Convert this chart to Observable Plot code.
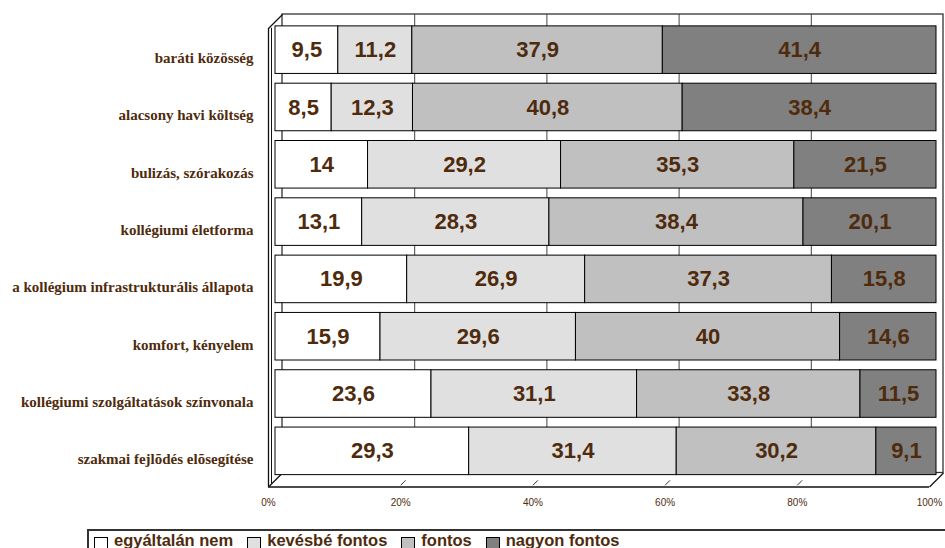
<!DOCTYPE html>
<html>
<head>
<meta charset="utf-8">
<script src="https://cdn.jsdelivr.net/npm/d3@7"></script>
<script src="https://cdn.jsdelivr.net/npm/@observablehq/plot@0.6"></script>
<style>
  html, body { margin: 0; padding: 0; background: #fff; width: 945px; height: 548px; overflow: hidden; }
  #chart svg { display: block; }
  #legend {
    margin-top: 5px; margin-left: 87px; width: 900px;
    border-top: 2px solid #333; border-left: 2px solid #333;
    padding-top: 0px; padding-left: 5px;
    display: flex; align-items: flex-start;
    font-family: "Liberation Sans", Arial, sans-serif; font-weight: bold;
    font-size: 16.5px; line-height: 19px; color: #4f2b0d;
  }
  #legend .item { display: flex; align-items: flex-start; margin-right: 14px; }
  #legend .sw { width: 12px; height: 12px; border: 1px solid #000; margin-top: 6px; margin-right: 6px; }
</style>
</head>
<body>
<div id="chart"></div>
<div id="legend"></div>
<script>
const categories = [
  "baráti közösség",
  "alacsony havi költség",
  "bulizás, szórakozás",
  "kollégiumi életforma",
  "a kollégium infrastrukturális állapota",
  "komfort, kényelem",
  "kollégiumi szolgáltatások színvonala",
  "szakmai fejlõdés elõsegítése"
];
const seriesNames = ["egyáltalán nem", "kevésbé fontos", "fontos", "nagyon fontos"];
const egyaltalanNem = [9.5, 8.5, 14, 13.1, 19.9, 15.9, 23.6, 29.3];
const kevesbeFontos = [11.2, 12.3, 29.2, 28.3, 26.9, 29.6, 31.1, 31.4];
const fontos = [37.9, 40.8, 35.3, 38.4, 37.3, 40, 33.8, 30.2];
const nagyonFontos = [41.4, 38.4, 21.5, 20.1, 15.8, 14.6, 11.5, 9.1];
const tickValues = [0, 20, 40, 60, 80, 100];
const seriesColors = ["#ffffff", "#e0e0e0", "#c0c0c0", "#808080"];

const seriesValues = [egyaltalanNem, kevesbeFontos, fontos, nagyonFontos];
const table = [];
categories.forEach((cat, i) => {
  const total = seriesValues.reduce((s, arr) => s + arr[i], 0);
  let cum = 0;
  seriesValues.forEach((arr, j) => {
    const v = arr[i];
    table.push({row: i, cat, series: seriesNames[j], value: v,
      x1: cum / total * 100, x2: (cum + v) / total * 100});
    cum += v;
  });
});

const W = 945, H = 524, ML = 275, MR = 9, MT = 21, MB = 44.5;
const D = 7; // 3D depth in px
const ux = D / (W - ML - MR) * 100;
const uy = D / ((H - MT - MB) / categories.length);
const brown = "#4f2b0d";
const sans = "Liberation Sans, Arial, sans-serif";
const fmt = v => String(v).replace(".", ",");
const half = 0.415;

const chart = Plot.plot({
  width: W, height: H,
  marginLeft: ML, marginRight: MR, marginTop: MT, marginBottom: MB,
  x: {domain: [0, 100], axis: null},
  y: {domain: [-0.5, categories.length - 0.5], reverse: true, axis: null},
  color: {domain: seriesNames, range: seriesColors},
  marks: [
    // back wall
    Plot.rect([0], {x1: 0, x2: 100, y1: -0.5, y2: 7.5, dx: D, dy: -D, fill: "white", stroke: "#333", strokeWidth: 1.3}),
    // gridlines on back wall
    Plot.ruleX(tickValues.slice(1, -1), {y1: -0.5, y2: 7.5, dx: D, dy: -D, stroke: "#444", strokeWidth: 1}),
    // left wall front lines
    Plot.ruleX([0], {y1: -0.5, y2: 7.5, dx: -D, dy: D, stroke: "#111", strokeWidth: 1.3}),
    Plot.ruleX([0], {y1: -0.5 + uy * 0.4, y2: 7.5, dx: -D + 3, dy: D - 3, stroke: "#111", strokeWidth: 1}),
    // depth diagonals
    Plot.link([[0, -0.5], [0, 7.5], [100, 7.5]], {
      x1: d => d[0] - ux, y1: d => d[1] + uy, x2: d => d[0] + ux, y2: d => d[1] - uy,
      stroke: "#111", strokeWidth: 1.3
    }),
    // floor front edge
    Plot.ruleY([7.5], {x1: 0, x2: 100, dx: -D, dy: D, stroke: "#111", strokeWidth: 1.3}),
    // floor tick marks
    Plot.link(tickValues.slice(1, -1), {
      x1: d => d - ux, y1: 7.5 + uy * 0.75, x2: d => d - ux * 0.3, y2: 7.5 + uy * 0.05,
      stroke: "#333", strokeWidth: 1
    }),
    // bars
    Plot.rect(table, {
      x1: "x1", x2: "x2", y1: d => d.row - half, y2: d => d.row + half,
      fill: "series", stroke: "#000", strokeWidth: 1
    }),
    // value labels
    Plot.text(table, {
      x: d => (d.x1 + d.x2) / 2, y: "row", text: d => fmt(d.value),
      fontSize: 22, fontWeight: "bold", fontFamily: sans, fill: brown
    }),
    // category labels
    Plot.text(categories, {
      x: 0, y: (d, i) => i, text: d => d, dx: -22, dy: 8, textAnchor: "end",
      fontSize: 15, fontWeight: "bold", fontFamily: "Liberation Serif, Times New Roman, serif", fill: brown
    }),
    // x tick labels
    Plot.text(tickValues, {
      x: d => d, y: 7.5, text: d => d + "%", dx: -D, dy: 22.5,
      fontSize: 10, fontFamily: sans, fill: brown
    })
  ]
});
document.getElementById("chart").appendChild(chart);

const legend = document.getElementById("legend");
seriesNames.forEach((name, j) => {
  const item = document.createElement("div");
  item.className = "item";
  const sw = document.createElement("div");
  sw.className = "sw";
  sw.style.background = seriesColors[j];
  const t = document.createElement("span");
  t.textContent = name;
  item.appendChild(sw);
  item.appendChild(t);
  legend.appendChild(item);
});
</script>
</body>
</html>
